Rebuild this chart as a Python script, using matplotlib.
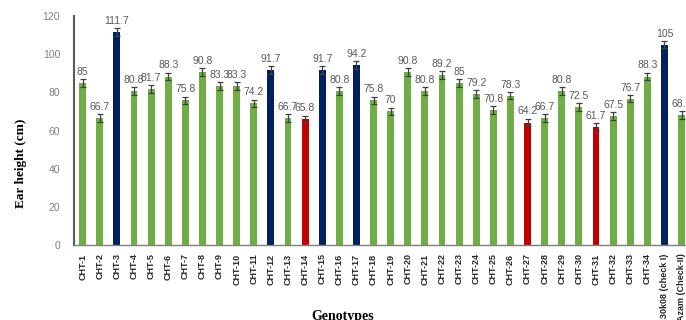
import numpy as np
import matplotlib
matplotlib.use('Agg')
import matplotlib.pyplot as plt

# genotypes and mean ear height (cm)
genotypes = ['CHT-%d' % i for i in range(1, 35)] + ['30k08 (check I)', 'Azam (Check-II)']
ear_height = [85, 66.7, 111.7, 80.8, 81.7, 88.3, 75.8, 90.8, 83.3, 83.3,
              74.2, 91.7, 66.7, 65.8, 91.7, 80.8, 94.2, 75.8, 70, 90.8,
              80.8, 89.2, 85, 79.2, 70.8, 78.3, 64.2, 66.7, 80.8, 72.5,
              61.7, 67.5, 76.7, 88.3, 105, 68.3]
std_err = [2, 2, 2, 2, 2, 2, 2, 2, 2, 2,
           2, 2, 2, 2, 2, 2, 2, 2, 2, 2,
           2, 2, 2, 2, 2, 2, 2, 2, 2, 2,
           2, 2, 2, 2, 2, 2]
# group: 'high' = navy, 'low' = red, other = green
high_group = ['CHT-3', 'CHT-12', 'CHT-15', 'CHT-17', '30k08 (check I)']
low_group = ['CHT-14', 'CHT-27', 'CHT-31']

green = '#70AD47'
navy = '#002060'
red = '#C00000'
colors = []
for g in genotypes:
    if g in high_group:
        colors.append(navy)
    elif g in low_group:
        colors.append(red)
    else:
        colors.append(green)

fig = plt.figure(figsize=(6.86, 3.2), dpi=100)
ax = fig.add_axes([0.108, 0.234, 0.898, 0.716])
x = np.arange(len(genotypes))
ax.bar(x, ear_height, width=0.4, color=colors, zorder=2)
ax.errorbar(x, ear_height, yerr=std_err, fmt='none', ecolor='#404040',
            elinewidth=0.9, capsize=2.2, capthick=0.9, zorder=3)
for xi, v, e in zip(x, ear_height, std_err):
    ax.text(xi, v + e + 1.2, '%g' % v, ha='center', va='bottom',
            fontsize=7.5, color='#595959', family='Liberation Sans')

ax.set_xlim(-0.5, len(genotypes) - 0.5)
ax.set_ylim(0, 120)
ax.set_yticks(np.arange(0, 121, 20))
ax.tick_params(axis='y', length=0, labelsize=7.5, labelcolor='#7f7f7f', pad=10)
ax.set_xticks(x)
ax.set_xticklabels(genotypes, rotation=90, fontsize=6.5, fontweight='bold',
                   family='Liberation Sans', color='#262626')
ax.tick_params(axis='x', length=0, pad=6)
for lab in ax.get_yticklabels():
    lab.set_family('Liberation Sans')
ax.spines['top'].set_visible(False)
ax.spines['right'].set_visible(False)
ax.spines['left'].set_color('#595959')
ax.spines['left'].set_linewidth(1.5)
ax.spines['bottom'].set_color('#7f7f7f')
ax.spines['bottom'].set_linewidth(1.0)

fig.text(0.03, 0.49, 'Ear height (cm)', rotation=90, ha='center', va='center',
         fontsize=9.5, fontweight='bold', family='Liberation Serif')
fig.text(0.499, 0.032, 'Genotypes', ha='center', va='top',
         fontsize=10, fontweight='bold', family='Liberation Serif')

fig.savefig('out.png', dpi=100)
